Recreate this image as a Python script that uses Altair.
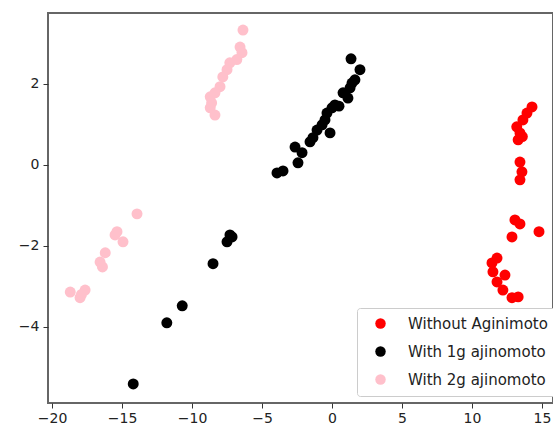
import altair as alt
import pandas as pd

groups = ["Without Aginimoto", "With 1g ajinomoto", "With 2g ajinomoto"]
colors = ["red", "black", "pink"]

red_x = [14.29, 13.93, 13.64, 13.2, 13.43, 13.3, 13.6, 13.43, 13.57, 13.43,
         13.07, 13.43, 12.86, 14.79, 11.79, 11.43, 11.5, 12.36, 11.79, 12.21, 12.86, 13.3]
red_y = [1.43, 1.28, 1.11, 0.94, 0.79, 0.62, 0.7, 0.07, -0.17, -0.37,
         -1.36, -1.46, -1.78, -1.65, -2.3, -2.42, -2.64, -2.72, -2.89, -3.09, -3.28, -3.26]

black_x = [1.36, 2.0, 1.64, 1.43, 1.29, 0.79, 1.14, 0.21, 0.5, 0.0, -0.36, -0.5, -0.71,
           -0.14, -1.07, -1.36, -1.57, -2.64, -2.14, -2.43, -3.5, -3.93,
           -7.29, -7.5, -7.14, -8.5, -10.7, -11.8, -14.2]
black_y = [2.62, 2.35, 2.1, 2.02, 1.9, 1.78, 1.65, 1.48, 1.45, 1.41, 1.28, 1.11, 0.99,
           0.79, 0.86, 0.67, 0.57, 0.44, 0.3, 0.05, -0.15, -0.2,
           -1.73, -1.9, -1.78, -2.44, -3.48, -3.9, -5.41]

pink_x = [-6.36, -6.57, -6.43, -6.8, -7.3, -7.5, -7.8, -8.0, -8.36, -8.7, -8.6, -8.7, -8.36,
          -13.93, -15.36, -15.5, -14.93, -16.2, -16.57, -16.4, -18.7, -17.64, -18.0, -17.9]
pink_y = [3.33, 2.91, 2.77, 2.6, 2.52, 2.35, 2.17, 1.93, 1.78, 1.68, 1.53, 1.41, 1.23,
          -1.21, -1.65, -1.73, -1.9, -2.17, -2.4, -2.52, -3.14, -3.09, -3.28, -3.2]

x_ticks = [-20, -15, -10, -5, 0, 5, 10, 15]
y_ticks = [-4, -2, 0, 2]

rows = []
for g, xs, ys in zip(groups, [red_x, black_x, pink_x], [red_y, black_y, pink_y]):
    for a, b in zip(xs, ys):
        rows.append({"x": a, "y": b, "group": g})
df = pd.DataFrame(rows)

chart = alt.Chart(df).mark_circle(size=120, opacity=1).encode(
    x=alt.X("x:Q", scale=alt.Scale(domain=[-20.29, 15.79], nice=False, zero=False),
            axis=alt.Axis(values=x_ticks, title=None, grid=False, domain=False,
                          tickSize=5, tickColor="#333", labelColor="#222",
                          labelFontSize=14, labelFont="DejaVu Sans", labelPadding=3,
                          labelFlush=False)),
    y=alt.Y("y:Q", scale=alt.Scale(domain=[-5.88, 3.75], nice=False, zero=False),
            axis=alt.Axis(values=y_ticks, title=None, grid=False, domain=False,
                          tickSize=5, tickColor="#333", labelColor="#222",
                          labelFontSize=14, labelFont="DejaVu Sans", labelPadding=4,
                          labelFlush=False)),
    color=alt.Color("group:N", scale=alt.Scale(domain=groups, range=colors),
                    sort=groups,
                    legend=alt.Legend(title=None, orient="none", legendX=309, legendY=295,
                                      symbolType="circle", symbolSize=110,
                                      labelFontSize=15, labelFont="DejaVu Sans",
                                      labelColor="#222", padding=8, symbolOffset=8,
                                      labelOffset=20, rowPadding=12,
                                      strokeColor="#cccccc", fillColor="white",
                                      cornerRadius=3)),
).properties(
    width=505, height=390,
    autosize=alt.AutoSizeParams(type="none"),
    padding={"left": 48, "top": 13, "right": 0, "bottom": 31},
    background="white",
).configure_view(stroke="#666666", strokeWidth=2)

chart.save("out.html", embed_options={"renderer": "svg", "actions": False})
